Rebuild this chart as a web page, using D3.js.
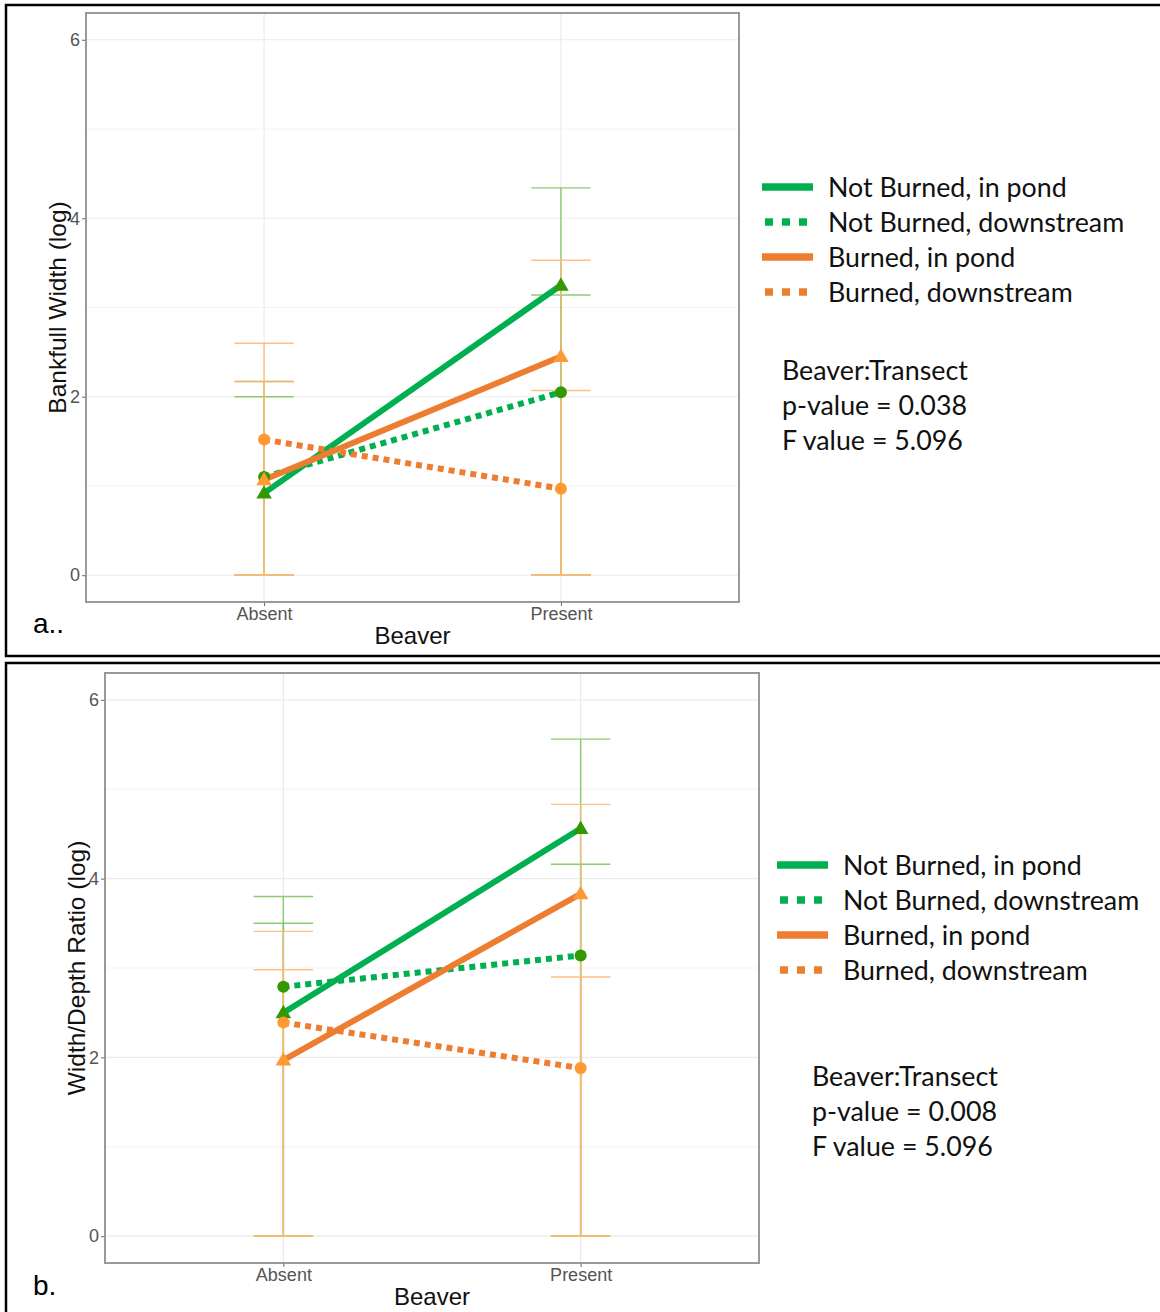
<!DOCTYPE html>
<html>
<head>
<meta charset="utf-8">
<script src="https://cdn.jsdelivr.net/npm/d3@7"></script>
<style>
  body { margin: 0; background: #fff; }
  svg { display: block; }
</style>
</head>
<body>
<div id="chart"></div>
<script>
/* Dos paneles: Bankfull Width y Width/Depth Ratio vs Beaver */

// categorias y series
var beaver = ["Absent", "Present"];
var seriesNames = ["Not Burned, in pond", "Not Burned, downstream", "Burned, in pond", "Burned, downstream"];
var yTicks = [0, 2, 4, 6];
var yMinor = [1, 3, 5];

// panel a: medias (Absent, Present)
var bankNBPond = [0.92, 3.25];
var bankNBDown = [1.10, 2.05];
var bankBPond  = [1.07, 2.45];
var bankBDown  = [1.52, 0.97];
// panel a: limites superiores de las barras de error
var bankNBPondHi = [2.00, 4.34];
var bankNBDownHi = [2.17, 3.14];
var bankBPondHi  = [2.17, 3.53];
var bankBDownHi  = [2.60, 2.07];

// panel b: medias
var ratioNBPond = [2.50, 4.56];
var ratioNBDown = [2.79, 3.14];
var ratioBPond  = [1.97, 3.83];
var ratioBDown  = [2.39, 1.88];
// panel b: limites superiores
var ratioNBPondHi = [3.50, 5.56];
var ratioNBDownHi = [3.80, 4.16];
var ratioBPondHi  = [2.98, 4.83];
var ratioBDownHi  = [3.41, 2.90];

// limite inferior (recortado en 0)
var lowerBound = [0, 0];

var statsA = ["Beaver:Transect", "p-value = 0.038", "F value = 5.096"];
var statsB = ["Beaver:Transect", "p-value = 0.008", "F value = 5.096"];

var W = 1160, H = 1312;
var svg = d3.select("#chart").append("svg")
    .attr("width", W)
    .attr("height", H);

// estilos de cada serie
var style = [
  { line: "#00b050", point: "#339900", err: "#78c35c", errOp: 0.85, dash: null, shape: d3.symbolTriangle },
  { line: "#00b050", point: "#339900", err: "#78c35c", errOp: 0.85, dash: "6,5", shape: d3.symbolCircle },
  { line: "#ed7d31", point: "#ff9933", err: "#ffb774", errOp: 0.88, dash: null, shape: d3.symbolTriangle },
  { line: "#ed7d31", point: "#ff9933", err: "#ffb774", errOp: 0.88, dash: "6,5", shape: d3.symbolCircle }
];

var axisFont = "Liberation Sans, Arial, sans-serif";
var textFont = "Lato, 'Open Sans', sans-serif";

function graficaPanel(opts) {
  var g = svg.append("g");

  // caja exterior
  g.append("rect")
    .attr("x", opts.box[0]).attr("y", opts.box[1])
    .attr("width", opts.box[2]).attr("height", opts.box[3])
    .attr("fill", "none").attr("stroke", "#000").attr("stroke-width", 2.5);

  var p = opts.plot;
  var x = d3.scalePoint().domain(beaver).range([p.x0, p.x1]).padding(0.6);
  var y = d3.scaleLinear().domain([-0.3, 6.3]).range([p.y1, p.y0]);

  // rejilla
  g.selectAll(".minor").data(yMinor).enter().append("line")
    .attr("x1", p.x0).attr("x2", p.x1)
    .attr("y1", function(d) { return y(d); }).attr("y2", function(d) { return y(d); })
    .attr("stroke", "#f3f3f3").attr("stroke-width", 1);
  g.selectAll(".major").data(yTicks).enter().append("line")
    .attr("x1", p.x0).attr("x2", p.x1)
    .attr("y1", function(d) { return y(d); }).attr("y2", function(d) { return y(d); })
    .attr("stroke", "#ebebeb").attr("stroke-width", 1.2);
  g.selectAll(".vgrid").data(beaver).enter().append("line")
    .attr("x1", function(d) { return x(d); }).attr("x2", function(d) { return x(d); })
    .attr("y1", p.y0).attr("y2", p.y1)
    .attr("stroke", "#ebebeb").attr("stroke-width", 1.2);

  // ejes
  var ax = g.append("g")
    .attr("transform", "translate(" + p.x0 + ",0)")
    .call(d3.axisLeft(y).tickValues(yTicks).tickFormat(d3.format("d")).tickSize(4).tickPadding(2));
  var bx = g.append("g")
    .attr("transform", "translate(0," + p.y1 + ")")
    .call(d3.axisBottom(x).tickSize(4).tickPadding(1));
  [ax, bx].forEach(function(a) {
    a.select(".domain").remove();
    a.selectAll("line").attr("stroke", "#666");
    a.selectAll("text").attr("fill", "#555")
      .style("font-family", axisFont)
      .style("font-size", "18px");
  });

  // barras de error
  var capW = x.step() * 0.2;
  opts.means.forEach(function(m, i) {
    var hi = opts.upper[i];
    var eg = g.append("g")
      .attr("stroke", style[i].err)
      .attr("stroke-opacity", style[i].errOp)
      .attr("stroke-width", 1.4);
    beaver.forEach(function(b, k) {
      eg.append("line")
        .attr("x1", x(b)).attr("x2", x(b))
        .attr("y1", y(hi[k])).attr("y2", y(lowerBound[k]));
      eg.append("line")
        .attr("x1", x(b) - capW / 2).attr("x2", x(b) + capW / 2)
        .attr("y1", y(hi[k])).attr("y2", y(hi[k]));
      eg.append("line")
        .attr("x1", x(b) - capW / 2).attr("x2", x(b) + capW / 2)
        .attr("y1", y(lowerBound[k])).attr("y2", y(lowerBound[k]));
    });
  });

  // lineas
  opts.means.forEach(function(m, i) {
    g.append("path")
      .datum(m)
      .attr("d", d3.line()
        .x(function(d, k) { return x(beaver[k]); })
        .y(function(d) { return y(d); }))
      .attr("fill", "none")
      .attr("stroke", style[i].line)
      .attr("stroke-width", 6)
      .attr("stroke-dasharray", style[i].dash);
  });

  // puntos
  opts.means.forEach(function(m, i) {
    g.selectAll(null).data(m).enter().append("path")
      .attr("transform", function(d, k) {
        var dy = style[i].shape === d3.symbolTriangle ? 1 : 0;
        return "translate(" + x(beaver[k]) + "," + (y(d) + dy) + ")";
      })
      .attr("d", d3.symbol().type(style[i].shape)
        .size(style[i].shape === d3.symbolTriangle ? 105 : 115))
      .attr("fill", style[i].point);
  });

  // borde del panel
  g.append("rect")
    .attr("x", p.x0).attr("y", p.y0)
    .attr("width", p.x1 - p.x0).attr("height", p.y1 - p.y0)
    .attr("fill", "none").attr("stroke", "#8f8f8f").attr("stroke-width", 1.8);

  // titulos de ejes
  g.append("text")
    .attr("x", (p.x0 + p.x1) / 2).attr("y", p.y1 + 42)
    .attr("text-anchor", "middle")
    .style("font-family", axisFont)
    .style("font-size", "24px").attr("fill", "#111")
    .text("Beaver");
  g.append("text")
    .attr("transform", "translate(" + (p.x0 - 20) + "," + ((p.y0 + p.y1) / 2) + ") rotate(-90)")
    .attr("text-anchor", "middle")
    .style("font-family", axisFont)
    .style("font-size", "24.5px").attr("fill", "#111")
    .text(opts.yTitle);

  // etiqueta del panel
  g.append("text")
    .attr("x", 33).attr("y", opts.tagY)
    .style("font-family", axisFont)
    .style("font-size", "28px").attr("fill", "#000")
    .text(opts.tag);

  // leyenda
  var L = opts.legend;
  seriesNames.forEach(function(name, i) {
    var cy = L.y + i * 35;
    g.append("line")
      .attr("x1", style[i].dash ? L.x + 3 : L.x).attr("x2", style[i].dash ? L.x + 45 : L.x + 51)
      .attr("y1", cy).attr("y2", cy)
      .attr("stroke", style[i].line)
      .attr("stroke-width", 7.5)
      .attr("stroke-dasharray", style[i].dash ? "8,9" : null);
    g.append("text")
      .attr("x", L.x + 66).attr("y", cy + 9.5)
      .style("font-family", textFont)
      .style("font-size", "26.8px").attr("fill", "#111")
      .text(name);
  });

  // estadisticos
  opts.stats.forEach(function(s, i) {
    g.append("text")
      .attr("x", L.sx).attr("y", L.sy + i * 35 + 9.5)
      .style("font-family", textFont)
      .style("font-size", "26.8px").attr("fill", "#111")
      .text(s);
  });
}

graficaPanel({
  box: [6, 5, 1160, 651],
  plot: { x0: 86, x1: 739, y0: 13, y1: 602 },
  means: [bankNBPond, bankNBDown, bankBPond, bankBDown],
  upper: [bankNBPondHi, bankNBDownHi, bankBPondHi, bankBDownHi],
  yTitle: "Bankfull Width (log)",
  tag: "a..", tagY: 633,
  legend: { x: 762, y: 187, sx: 782, sy: 370 },
  stats: statsA
});

graficaPanel({
  box: [6, 663, 1160, 660],
  plot: { x0: 105, x1: 759, y0: 673, y1: 1263 },
  means: [ratioNBPond, ratioNBDown, ratioBPond, ratioBDown],
  upper: [ratioNBPondHi, ratioNBDownHi, ratioBPondHi, ratioBDownHi],
  yTitle: "Width/Depth Ratio (log)",
  tag: "b.", tagY: 1295,
  legend: { x: 777, y: 865, sx: 812, sy: 1076 },
  stats: statsB
});
</script>
</body>
</html>
